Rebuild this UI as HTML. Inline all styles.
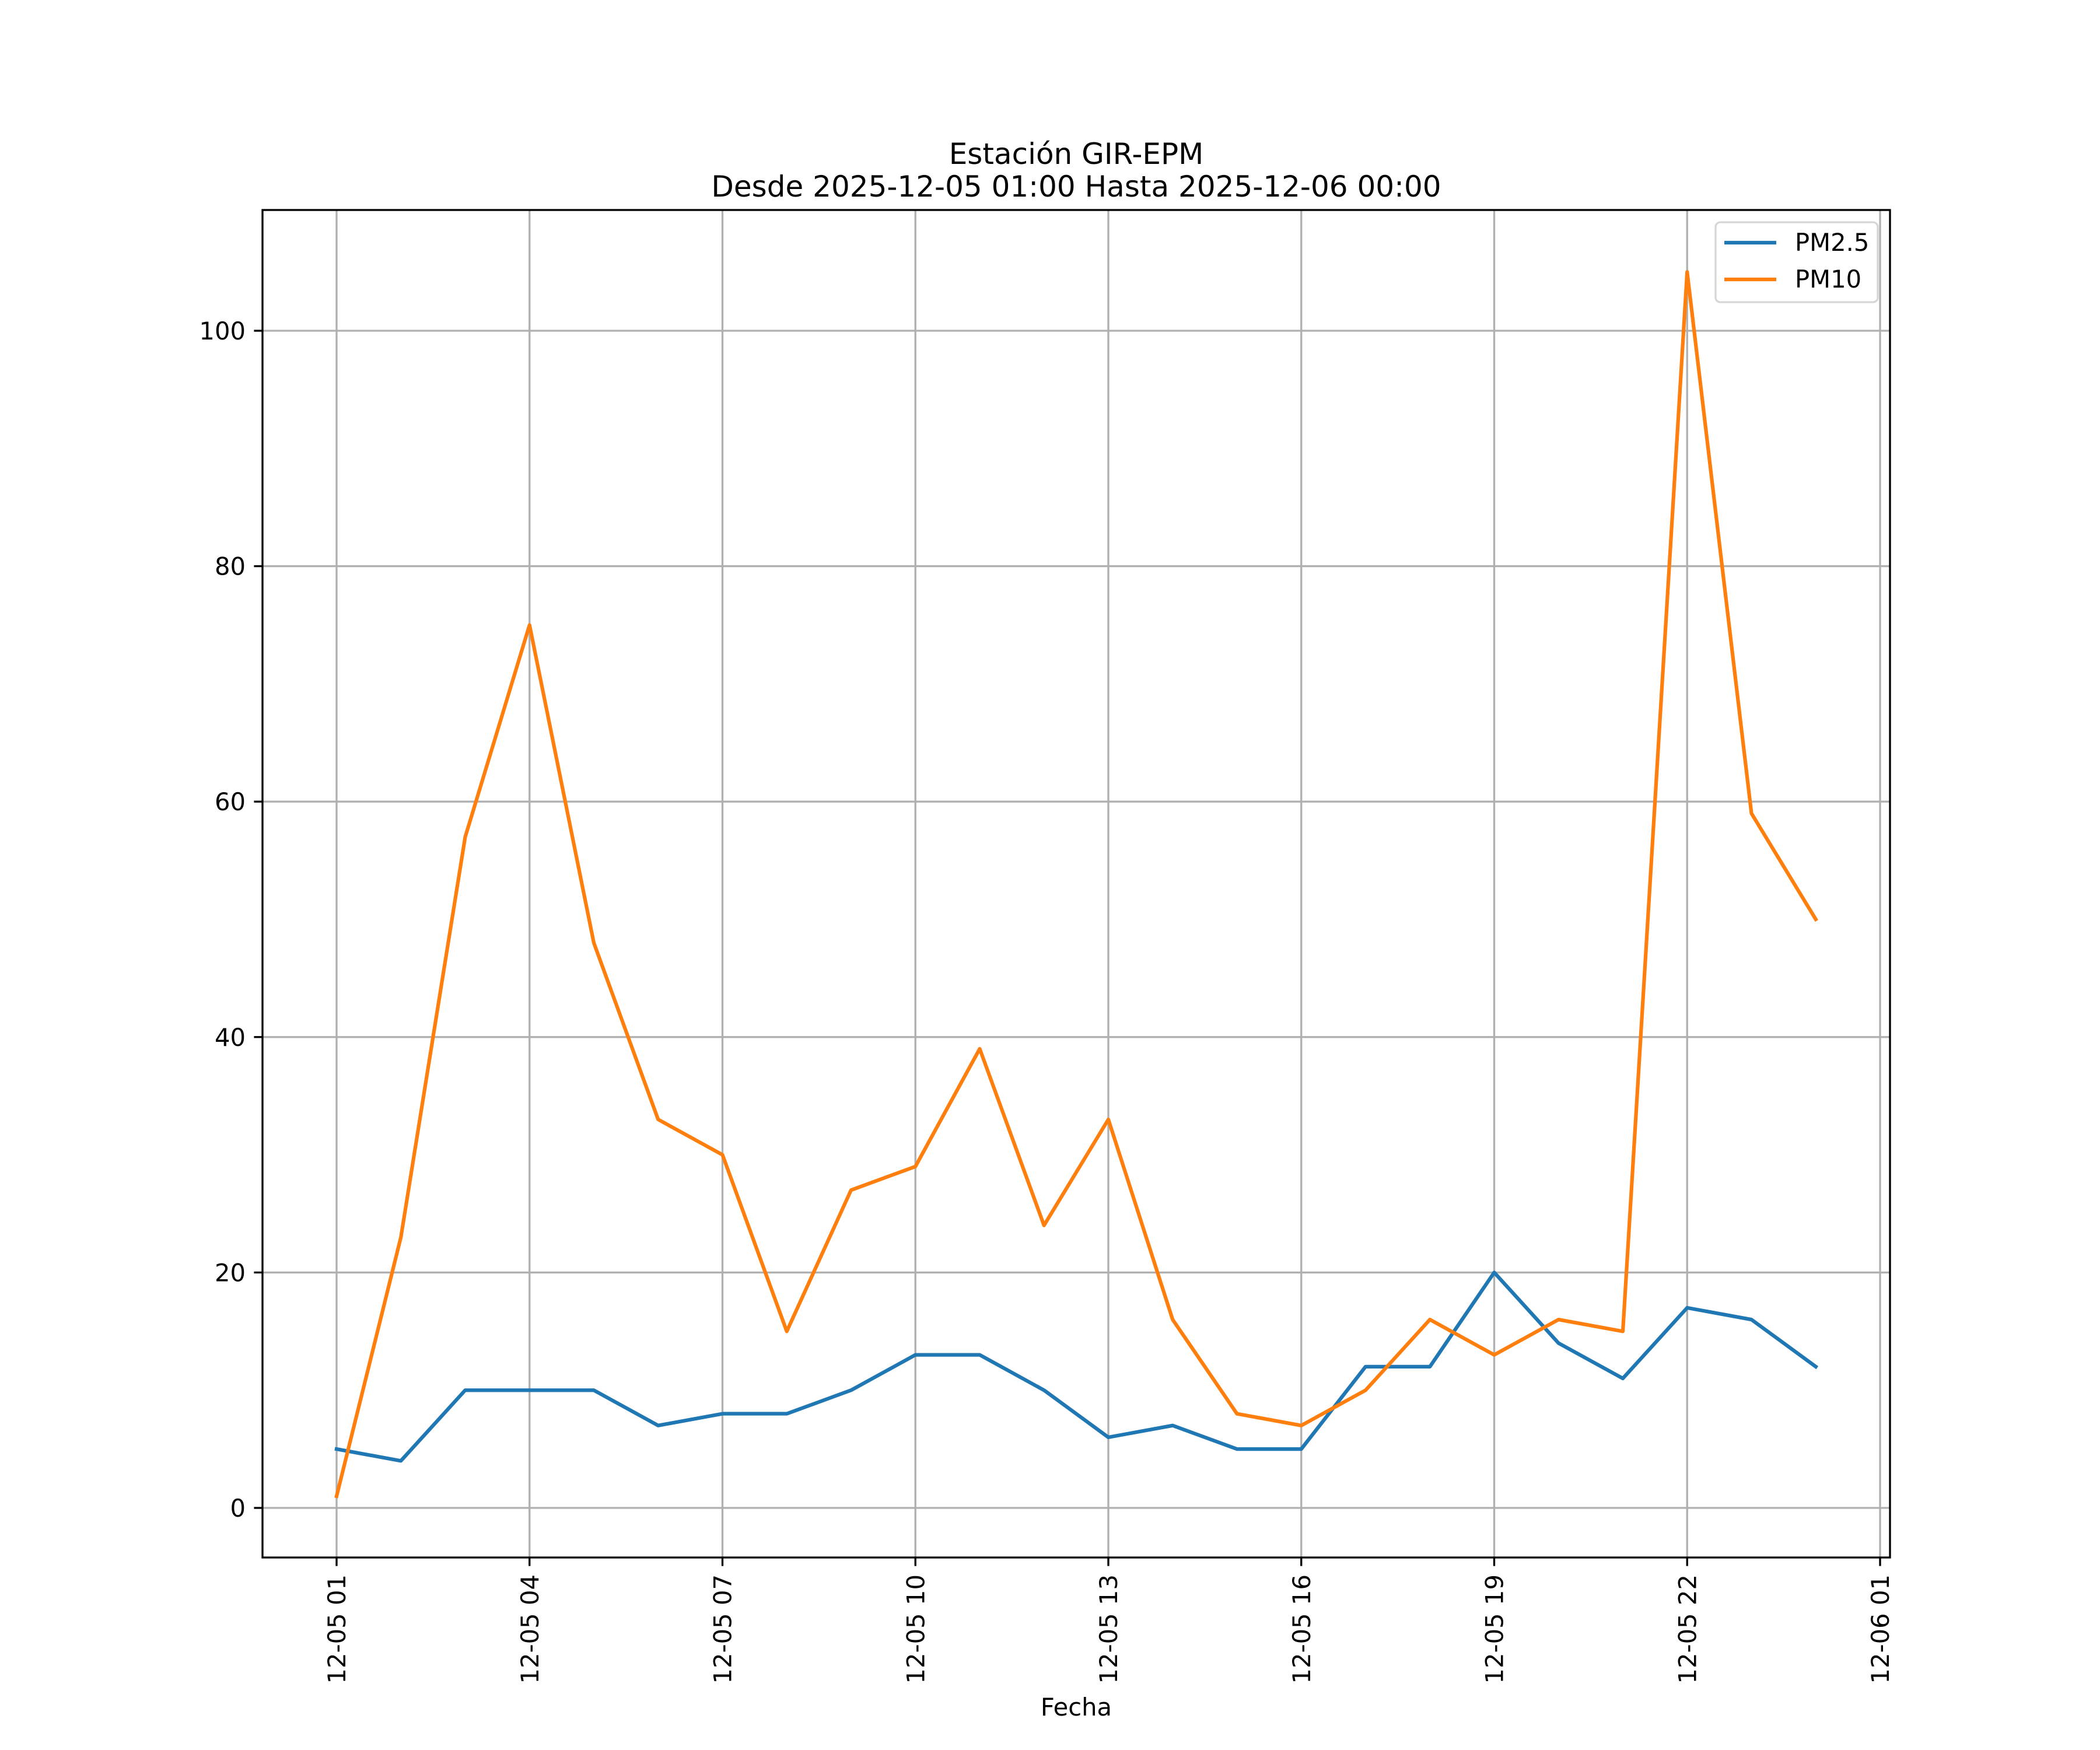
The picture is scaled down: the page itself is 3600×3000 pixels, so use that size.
<!DOCTYPE html>
<html><head><meta charset="utf-8"><style>
html,body{margin:0;padding:0;background:#fff;}
svg{display:block;font-family:"DejaVu Sans","Liberation Sans",sans-serif;}
</style></head><body>
<svg id="chart" width="3600" height="3000" viewBox="0 0 3600 3000" xmlns="http://www.w3.org/2000/svg">
<rect width="3600" height="3000" fill="#fff"/>
<text x="1845" y="281" font-size="50" text-anchor="middle">Estación GIR-EPM</text>
<text x="1845" y="337" font-size="50" text-anchor="middle">Desde 2025-12-05 01:00 Hasta 2025-12-06 00:00</text>
<g id="grid"></g>
<g id="series"></g>
<rect x="450" y="360" width="2790" height="2310" fill="none" stroke="#000" stroke-width="3.33"/>
<g id="ticks"></g>
<text x="1845" y="2941" font-size="41.7" text-anchor="middle">Fecha</text>
<g>
<rect x="2941" y="381" width="278" height="137" rx="8" fill="#fff" fill-opacity="0.8" stroke="#d6d6d6" stroke-width="3.33"/>
<line x1="2956" y1="416" x2="3045" y2="416" stroke="#1f77b4" stroke-width="6.25"/>
<text x="3077" y="430" font-size="41.7">PM2.5</text>
<line x1="2956" y1="479" x2="3045" y2="479" stroke="#ff7f0e" stroke-width="6.25"/>
<text x="3077" y="493" font-size="41.7">PM10</text>
</g>
</svg>
<script>
const hours = [1,2,3,4,5,6,7,8,9,10,11,12,13,14,15,16,17,18,19,20,21,22,23,24];
const pm25 = [5,4,10,10,10,7,8,8,10,13,13,10,6,7,5,5,12,12,20,14,11,17,16,12];
const pm10 = [1,23,57,75,48,33,30,15,27,29,39,24,33,16,8,7,10,16,13,16,15,105,59,50];
const yTicks = [0,20,40,60,80,100];
const xTickHours = [1,4,7,10,13,16,19,22,25];
const xTickLabels = ["12-05 01","12-05 04","12-05 07","12-05 10","12-05 13","12-05 16","12-05 19","12-05 22","12-06 01"];

const NS = "http://www.w3.org/2000/svg";
const L=450,R=3240,T=360,B=2670;
const x = h => 577 + (h-1)*110.25;
const y = v => 2585 - v*20.18;
function mk(tag, attrs, parent){const e=document.createElementNS(NS,tag);for(const k in attrs)e.setAttribute(k,attrs[k]);parent.appendChild(e);return e;}
const grid=document.getElementById('grid'), ticks=document.getElementById('ticks'), series=document.getElementById('series');
yTicks.forEach(v=>{
  const g=mk('line',{x1:L,x2:R,y1:y(v),y2:y(v),stroke:'#b0b0b0','stroke-width':3.33},grid);
  
  
  const t=mk('line',{x1:L-14.6,x2:L,y1:y(v),y2:y(v),stroke:'#000','stroke-width':3.33},ticks);
  
  
  const lb=mk('text',{x:L-29,y:y(v)+15,'font-size':41.7,'text-anchor':'end'},ticks);
  lb.textContent=v;
  
  
});
xTickHours.forEach((h,i)=>{
  const g=mk('line',{x1:x(h),x2:x(h),y1:T,y2:B,stroke:'#b0b0b0','stroke-width':3.33},grid);
  
  
  const t=mk('line',{x1:x(h),x2:x(h),y1:B,y2:B+14.6,stroke:'#000','stroke-width':3.33},ticks);
  
  
  const lb=mk('text',{x:0,y:0,'font-size':41.7,'text-anchor':'end',transform:`translate(${x(h)+15},${B+29}) rotate(-90)`},ticks);
  lb.textContent=xTickLabels[i];
  
  
});
function line(vals,color,name){
  const p=mk('polyline',{points:vals.map((v,i)=>x(hours[i])+','+y(v)).join(' '),fill:'none',stroke:color,'stroke-width':6.25,'stroke-linejoin':'round','stroke-linecap':'square'},series);
  
  
}
line(pm25,'#1f77b4','pm25-line');
line(pm10,'#ff7f0e','pm10-line');
</script>
</body></html>
